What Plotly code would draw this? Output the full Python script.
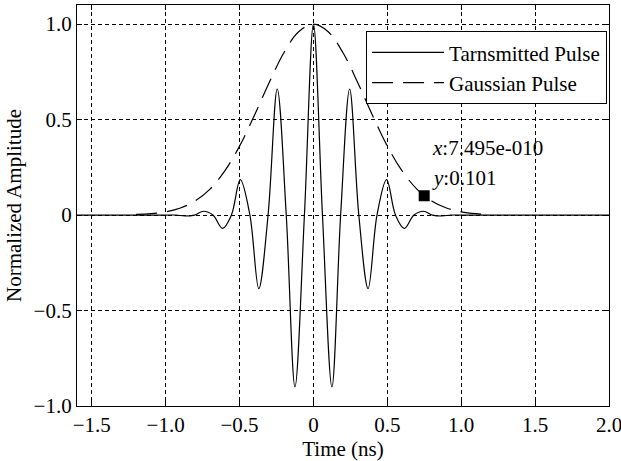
import plotly.graph_objects as go

# Transmitted pulse: points read at extrema and zero crossings (ns, normalized amplitude)
tx_time = [-1.6, -1.0, -0.93, -0.87, -0.805, -0.745, -0.68, -0.615, -0.555, -0.495,
           -0.43, -0.37, -0.307, -0.245, -0.184, -0.125, -0.061, 0.0, 0.061, 0.125,
           0.184, 0.245, 0.307, 0.37, 0.43, 0.495, 0.555, 0.615, 0.68, 0.745,
           0.805, 0.87, 0.93, 1.0, 2.0]
tx_amp = [0.0, 0.0, 0.0, -0.005, 0.0, 0.02, 0.0, -0.07, 0.0, 0.185,
          0.0, -0.385, 0.0, 0.66, 0.0, -0.90, 0.0, 1.0, 0.0, -0.90,
          0.0, 0.66, 0.0, -0.385, 0.0, 0.185, 0.0, -0.07, 0.0, 0.02,
          0.0, -0.005, 0.0, 0.0, 0.0]

# Gaussian envelope
g_time = [-1.2, -1.1, -1.0, -0.9, -0.8, -0.7, -0.6, -0.5, -0.4, -0.3, -0.2, -0.1, 0.0,
          0.1, 0.2, 0.3, 0.4, 0.5, 0.6, 0.7, 0.8, 0.9, 1.0, 1.1, 1.2]
g_amp = [0.003, 0.007, 0.017, 0.037, 0.074, 0.136, 0.231, 0.361, 0.521, 0.693, 0.85, 0.96, 1.0,
         0.96, 0.85, 0.693, 0.521, 0.361, 0.231, 0.136, 0.074, 0.037, 0.017, 0.007, 0.003]

# Data tip
tip_x = [0.7495]
tip_y = [0.101]
tip_lines = ["<i>x</i>:7.495e-010", "<i>y</i>:0.101"]

x_ticks = [-1.5, -1.0, -0.5, 0.0, 0.5, 1.0, 1.5, 2.0]
x_labels = ["\u22121.5", "\u22121.0", "\u22120.5", "0", "0.5", "1.0", "1.5", "2.0"]
y_ticks = [-1.0, -0.5, 0.0, 0.5, 1.0]
y_labels = ["\u22121.0", "\u22120.5", "0", "0.5", "1.0"]

FONT = "Liberation Serif, Times New Roman, serif"
FS = 21

fig = go.Figure()
fig.add_trace(go.Scatter(x=tx_time, y=tx_amp, mode="lines", name="Tarnsmitted Pulse",
                         line=dict(color="black", width=1.2, shape="spline", smoothing=1.0)))
fig.add_trace(go.Scatter(x=g_time, y=g_amp, mode="lines", name="Gaussian Pulse",
                         line=dict(color="black", width=1.2, dash="21px,10px", shape="spline")))
fig.add_trace(go.Scatter(x=tip_x, y=tip_y, mode="markers", showlegend=False,
                         marker=dict(symbol="square", size=11, color="black")))

fig.add_annotation(x=0.79, y=0.351, xref="x", yref="y", text=tip_lines[0], showarrow=False,
                   xanchor="left", yanchor="middle", font=dict(family=FONT, size=FS, color="black"))
fig.add_annotation(x=0.79, y=0.194, xref="x", yref="y", text=tip_lines[1], showarrow=False,
                   xanchor="left", yanchor="middle", font=dict(family=FONT, size=FS, color="black"))

axis_common = dict(showline=True, linecolor="black", linewidth=1.2, mirror="ticks",
                   ticks="inside", ticklen=5, tickcolor="black",
                   showgrid=True, gridcolor="black", gridwidth=1, griddash="4px,3px",
                   zeroline=False, ticklabeloverflow="allow", automargin=False,
                   tickfont=dict(family=FONT, size=FS, color="black"))

fig.update_xaxes(range=[-1.6, 2.0], tickvals=x_ticks, ticktext=x_labels,
                 title=dict(text="Time (ns)", font=dict(family=FONT, size=FS, color="black"), standoff=0),
                 **axis_common)
fig.update_yaxes(range=[-1.0, 1.1], tickvals=y_ticks, ticktext=y_labels,
                 title=dict(text="Normalized Amplitude", font=dict(family=FONT, size=FS, color="black"), standoff=6),
                 **axis_common)

fig.update_layout(
    width=621, height=461,
    margin=dict(l=77, r=12, t=5, b=55),
    paper_bgcolor="white", plot_bgcolor="white",
    font=dict(family=FONT, size=FS, color="black"),
    legend=dict(x=0.543, y=0.935, xanchor="left", yanchor="top",
                bgcolor="white", bordercolor="black", borderwidth=1.2,
                font=dict(family=FONT, size=FS, color="black"),
                itemwidth=72, tracegroupgap=0),
)

fig.write_html("out.html", config={"displayModeBar": False},
               post_script="document.body.style.margin='0';document.body.style.overflow='hidden';")
